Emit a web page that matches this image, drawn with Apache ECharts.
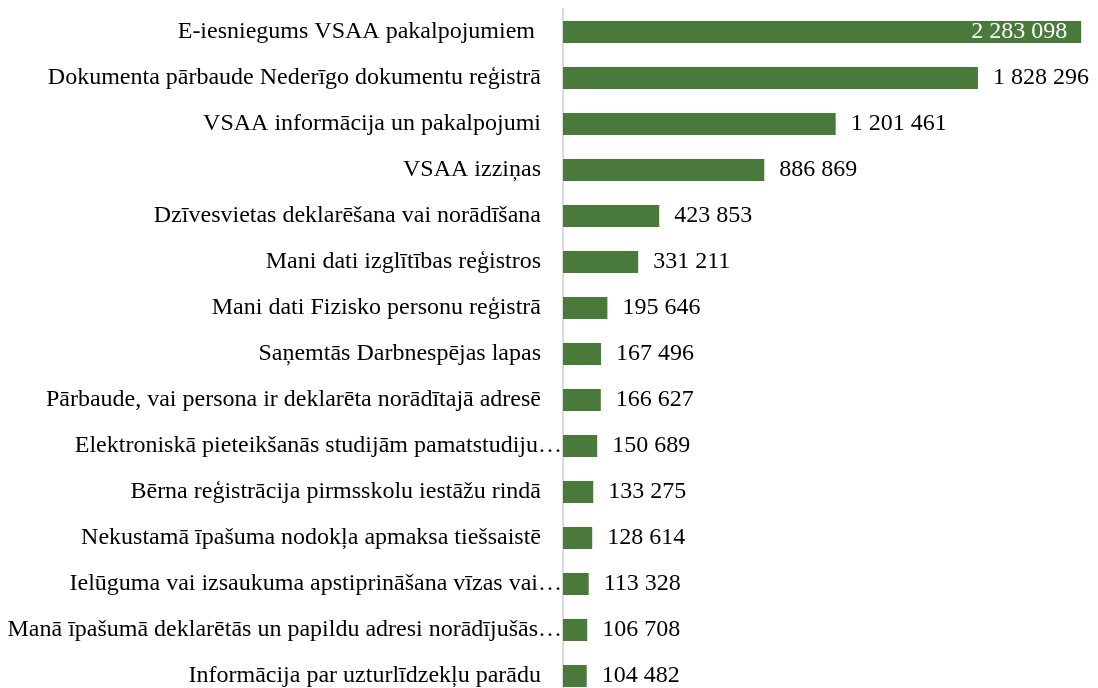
<!DOCTYPE html>
<html>
<head>
<meta charset="utf-8">
<script src="https://cdn.jsdelivr.net/npm/echarts@6/dist/echarts.min.js"></script>
<style>
  html, body { margin: 0; padding: 0; background: #fff; overflow: hidden; }
  /* zīmējums turpinās zem loga apakšmalas, kā oriģinālā */
  #main { width: 1098px; height: 704px; }
</style>
</head>
<body>
<div id="main"></div>
<script>
// pakalpojumi (no augšas uz leju)
var categories = [
    'E-iesniegums VSAA pakalpojumiem ',
    'Dokumenta pārbaude Nederīgo dokumentu reģistrā',
    'VSAA informācija un pakalpojumi',
    'VSAA izziņas',
    'Dzīvesvietas deklarēšana vai norādīšana',
    'Mani dati izglītības reģistros',
    'Mani dati Fizisko personu reģistrā',
    'Saņemtās Darbnespējas lapas',
    'Pārbaude, vai persona ir deklarēta norādītajā adresē',
    'Elektroniskā pieteikšanās studijām pamatstudiju…',
    'Bērna reģistrācija pirmsskolu iestāžu rindā',
    'Nekustamā īpašuma nodokļa apmaksa tiešsaistē',
    'Ielūguma vai izsaukuma apstiprināšana vīzas vai…',
    'Manā īpašumā deklarētās un papildu adresi norādījušās…',
    'Informācija par uzturlīdzekļu parādu'
];
var values = [2283098, 1828296, 1201461, 886869, 423853, 331211, 195646, 167496,
    166627, 150689, 133275, 128614, 113328, 106708, 104482];

var font = "'Liberation Serif', 'Times New Roman', serif";
var fs = 24;

function fmt(n) {
    return String(n).replace(/\B(?=(\d{3})+(?!\d))/g, ' ');
}

var barData = values.map(function (v, i) {
    if (i === 0) {
        return {value: v, label: {position: 'insideRight', distance: 14, color: '#fff'}};
    }
    return v;
});

var myChart = echarts.init(document.getElementById('main'));

var option = {
    animation: false,
    grid: {left: 563, right: 13, top: 9, height: 690, containLabel: false},
    xAxis: {
        type: 'value',
        min: 0,
        max: 2300000,
        show: false
    },
    yAxis: {
        type: 'category',
        inverse: true,
        data: categories,
        axisLine: {show: true, lineStyle: {color: '#d9d9d9', width: 2}},
        axisTick: {show: false},
        axisLabel: {
            margin: 1,
            color: '#000',
            fontFamily: font,
            fontSize: fs,
            formatter: function (v) {
                // saīsinātie nosaukumi pieiet līdz asij
                return v.slice(-1) === '…' ? '{e|' + v + '}' : '{n|' + v + '}';
            },
            rich: {
                n: {padding: [0, 21, 0, 0], fontFamily: font, fontSize: fs, color: '#000'},
                e: {fontFamily: font, fontSize: fs, color: '#000'}
            }
        }
    },
    series: [
        {
            type: 'bar',
            data: barData,
            barWidth: 22,
            itemStyle: {color: '#4a7a3b'},
            label: {
                show: true,
                position: 'right',
                distance: 15,
                color: '#000',
                fontFamily: font,
                fontSize: fs,
                formatter: function (p) { return fmt(p.value); }
            }
        }
    ]
};

myChart.setOption(option);
</script>
</body>
</html>
